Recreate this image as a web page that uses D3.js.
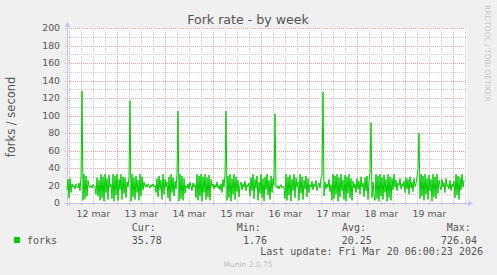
<!DOCTYPE html>
<html><head><meta charset="utf-8">
<script src="https://cdn.jsdelivr.net/npm/d3@7"></script>
<style>
html,body{margin:0;padding:0;background:#f0f0f0;}
svg{display:block;}
</style>
</head><body>
<svg id="c" width="497" height="275"></svg>
<script>
// ---- data ----
const title = "Fork rate - by week";
const yAxisLabel = "forks / second";
const seriesName = "forks";
const startTime = Date.UTC(2026, 2, 11, 22, 51); // first sample
const stepMinutes = 30;
const forks = [
  15,27,6,28,12, 22,18,20,16,22,19,17,23, 14,30, 128,
  3,33,5,31,8,26, 19,18,20,17,21,19,18, 10,29,8,26,
  3,33,6,30,2,33,12,28,4,32,18,22,5,33,2,31,9,33,3,27,15,33,4,30,11,29,6,24,
  18,30, 117,
  2,33,7,29,4,31,12,26,3,33,8,30,15,24,
  19,21,18,22,20,17,21,19,22,18,20,
  12,28,7,31,15,26,4,33,10,27,18,24,6,30,2,33,12,29,8,25,
  16,33, 105,
  2,33,5,31,3,28,11,
  20,17,22,16,24,19,14,23,18,21,
  6,33,3,31,8,33,2,30,12,33,4,29,7,32,3,27,
  19,22,16,21,18,24,17,20,15,22,
  12,27,18,32, 105,
  3,31,6,33,2,28,10,33,4,30,13,26,7,
  20,24,15,22,18,25,14,21,19,23,
  8,29,14,33,5,27,17,31,3,24,11,33,6,28,2,30,15,33,9,26,
  4,31,12,28,20, 102,
  18,17,20,16,19,21,17,19,18,
  5,33,3,30,9,32,2,27,14,33,6,29,18,24,3,33,11,30,4,26,16,31,7,28,12,
  21,18,25,15,22,19,26,14,20,23,17,29,
  30, 127,
  8,24,16,22,18,27,13,21,
  3,33,5,31,10,33,2,29,7,33,14,26,4,32,2,30,11,33,6,28,3,25,17,
  22,12,28,16,25,10,30,18,23,7,29,14,31,4,26,
  35, 92,
  6,24,10,
  3,33,5,31,2,33,8,29,4,32,12,27,2,33,6,30,3,28,15,33,
  18,26,14,23,20,28,16,22,19,25,
  12,29,16,27,10,30,17,24,13,28,19,22,30,
  38, 80,
  5,33,8,31,3,33,10,28,4,32,14,27,2,33,7,30,5,33,11,26,
  20,15,27,18,23,12,28,19,21,16,26,14,22,18,25,
  6,33,9,31,4,29,15,33,18,26
];
const dayLabels = ["12 mar","13 mar","14 mar","15 mar","16 mar","17 mar","18 mar","19 mar"];
const dayDates = [12,13,14,15,16,17,18,19];
const yTicks = [0,20,40,60,80,100,120,140,160,180,200];
const legendHeads = ["Cur:","Min:","Avg:","Max:"];
const legendValues = ["35.78","1.76","20.25","726.04"];
const lastUpdate = "Last update: Fri Mar 20 06:00:23 2026";
const footer = "Munin 2.0.75";
const watermark = "RRDTOOL / TOBI OETIKER";

// ---- layout ----
const L = 67, R = 467, T = 28, B = 203;
const svg = d3.select("#c");
const HOUR = 3600e3;
const endTime = startTime + 400 * stepMinutes * 60e3;
const x = d3.scaleUtc().domain([startTime, endTime]).range([L, R]);
const y = d3.scaleLinear().domain([0, 200]).range([B, T]);
const sansF = "DejaVu Sans, sans-serif";
const monoF = "DejaVu Sans Mono, monospace";
const txt = "#555";

svg.append("rect").attr("width",497).attr("height",275).attr("fill","#f0f0f0");
svg.append("rect").attr("x",L).attr("y",T).attr("width",R-L).attr("height",B-T).attr("fill","#fff");

// grid: horizontal
const hMinor = d3.range(10, 201, 20);
svg.append("g").selectAll("line").data(hMinor).join("line")
  .attr("x1",L-2).attr("x2",R).attr("y1",d=>Math.round(y(d))+0.5).attr("y2",d=>Math.round(y(d))+0.5)
  .attr("stroke","#c8c8c8").attr("stroke-dasharray","1,1");
svg.append("g").selectAll("line").data(yTicks.filter(d=>d>0)).join("line")
  .attr("x1",L-2).attr("x2",R).attr("y1",d=>Math.round(y(d))+0.5).attr("y2",d=>Math.round(y(d))+0.5)
  .attr("stroke","#f0a0a0").attr("stroke-dasharray","1,1");

// grid: vertical
const sixH = d3.utcHour.every(6).range(new Date(startTime), new Date(endTime));
const minorV = sixH.filter(d=>d.getUTCHours()!==0);
const majorV = sixH.filter(d=>d.getUTCHours()===0);
svg.append("g").selectAll("line").data(minorV).join("line")
  .attr("x1",d=>Math.round(x(d))+0.5).attr("x2",d=>Math.round(x(d))+0.5).attr("y1",T).attr("y2",B+2)
  .attr("stroke","#c8c8c8").attr("stroke-dasharray","1,1");
svg.append("g").selectAll("line").data(majorV).join("line")
  .attr("x1",d=>Math.round(x(d))+0.5).attr("x2",d=>Math.round(x(d))+0.5).attr("y1",T).attr("y2",B+3)
  .attr("stroke","#f0a0a0").attr("stroke-dasharray","1,1");

// axes lines and arrows
const axisC = "#c4c4f4";
svg.append("line").attr("x1",L-3).attr("x2",R+2).attr("y1",B+0.5).attr("y2",B+0.5).attr("stroke",axisC);
svg.append("line").attr("x1",L+0.5).attr("x2",L+0.5).attr("y1",B+3).attr("y2",T-4).attr("stroke",axisC);
svg.append("path").attr("d",`M${R+1},${B-2.5}L${R+6},${B+0.5}L${R+1},${B+3.5}Z`).attr("fill",axisC);
svg.append("path").attr("d",`M${L-2.5},${T-1}L${L+0.5},${T-6}L${L+3.5},${T-1}Z`).attr("fill",axisC);

// y tick labels
svg.append("g").selectAll("text").data(yTicks).join("text")
  .attr("x",60).attr("y",d=>y(d)+3.4).attr("text-anchor","end")
  .attr("font-family",sansF).attr("font-size",9.3).attr("fill",txt).text(d=>d);

// x tick labels
svg.append("g").selectAll("text").data(dayLabels).join("text")
  .attr("x",(d,i)=>x(Date.UTC(2026,2,dayDates[i],12))).attr("y",217).attr("text-anchor","middle")
  .attr("font-family",sansF).attr("font-size",9.3).attr("fill",txt).text(d=>d);

// data line
const line = d3.line().x((d,i)=>x(startTime + i*stepMinutes*60e3)).y(d=>y(d));
svg.append("path").datum(forks).attr("d",line).attr("fill","none")
  .attr("stroke","#00cc00").attr("stroke-width",1);

// title
svg.append("text").attr("x",248).attr("y",23.5).attr("text-anchor","middle")
  .attr("font-family",sansF).attr("font-size",12.6).attr("fill",txt).text(title);
// y axis label
svg.append("text").attr("transform","translate(15,117) rotate(-90)").attr("text-anchor","middle")
  .attr("font-family",sansF).attr("font-size",11.5).attr("fill",txt).text(yAxisLabel);
// watermark
svg.append("text").attr("transform","translate(485,5) rotate(90)").attr("text-anchor","start")
  .attr("font-family",sansF).attr("font-size",7.5).attr("fill","#c8c8c8").text(watermark);

// legend
svg.append("rect").attr("x",14).attr("y",237).attr("width",6).attr("height",6).attr("fill","#00cc00");
svg.append("text").attr("x",27).attr("y",243.5).attr("font-family",monoF).attr("font-size",10)
  .attr("fill",txt).text(seriesName);
const headX = [131.7, 236.7, 342, 446.7];
const valX = [131.7, 243, 341.7, 441];
svg.append("g").selectAll("text").data(legendHeads).join("text")
  .attr("x",(d,i)=>headX[i]).attr("y",230.5).attr("font-family",monoF).attr("font-size",10)
  .attr("fill",txt).text(d=>d);
svg.append("g").selectAll("text").data(legendValues).join("text")
  .attr("x",(d,i)=>valX[i]).attr("y",243.5).attr("font-family",monoF).attr("font-size",10)
  .attr("fill",txt).text(d=>d);
svg.append("text").attr("x",483).attr("y",255.3).attr("text-anchor","end").attr("font-family",monoF)
  .attr("font-size",10).attr("fill",txt).text(lastUpdate);
svg.append("text").attr("x",248).attr("y",267).attr("text-anchor","middle").attr("font-family",sansF)
  .attr("font-size",7.5).attr("fill","#c0c0c0").text(footer);
</script>
</body></html>
